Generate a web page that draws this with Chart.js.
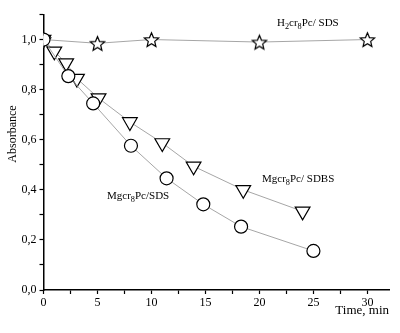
<!DOCTYPE html>
<html><head><meta charset="utf-8">
<script src="https://cdn.jsdelivr.net/npm/chart.js@4/dist/chart.umd.min.js"></script>
<style>html,body{margin:0;padding:0;background:#fff}#wrap{width:400px;height:333px}</style>
</head><body><div id="wrap"><canvas id="c"></canvas></div>
<script>
const timeStar = [0, 5, 10, 20, 30];
const absStar = [1.0, 0.985, 1.0, 0.99, 1.0];
const timeSDBS = [0, 1.0, 2.1, 3.1, 5.1, 8.0, 11.0, 13.9, 18.5, 24.0];
const absSDBS = [1.0, 0.953, 0.906, 0.844, 0.766, 0.671, 0.587, 0.494, 0.40, 0.314];
const timeSDS = [0, 2.3, 4.6, 8.1, 11.4, 14.8, 18.3, 25.0];
const absSDS = [1.0, 0.854, 0.745, 0.576, 0.446, 0.342, 0.253, 0.156];
const xTickValues = [0, 5, 10, 15, 20, 25, 30];
const yTickValues = [0.0, 0.2, 0.4, 0.6, 0.8, 1.0];
const xTitle = 'Time, min';
const yTitle = 'Absorbance';
// label pieces: [text, isSub]
const labelStar = [['H', false], ['2', true], ['cr', false], ['8', true], ['Pc/ SDS', false]];
const labelSDBS = [['Mgcr', false], ['8', true], ['Pc/ SDBS', false]];
const labelSDS = [['Mgcr', false], ['8', true], ['Pc/SDS', false]];

const SERIF = '"Liberation Serif", "Times New Roman", serif';

function makeStar(R) {
  const c = document.createElement('canvas');
  const s = Math.ceil(R * 2 + 4);
  c.width = s; c.height = s;
  const g = c.getContext('2d');
  const cx = s / 2, cy = s / 2 + 0.8;
  const r = R * 0.45;
  g.beginPath();
  for (let i = 0; i < 10; i++) {
    const a = -Math.PI / 2 + i * Math.PI / 5;
    const rr = i % 2 === 0 ? R : r;
    const x = cx + rr * Math.cos(a), y = cy + rr * Math.sin(a);
    if (i === 0) g.moveTo(x, y); else g.lineTo(x, y);
  }
  g.closePath();
  g.fillStyle = '#fff'; g.fill();
  g.strokeStyle = '#000'; g.lineWidth = 1.2; g.stroke();
  return c;
}
const starImg = makeStar(7.5);

const pts = (xs, ys) => xs.map((x, i) => ({x: x, y: ys[i]}));

const textPlugin = {
  id: 'texts',
  afterDraw(chart) {
    const ctx = chart.ctx;
    ctx.save();
    ctx.fillStyle = '#000';
    function drawPieces(pieces, x, y, size) {
      ctx.textAlign = 'left';
      ctx.textBaseline = 'alphabetic';
      let cx = x;
      for (const [t, sub] of pieces) {
        ctx.font = (sub ? size * 0.75 : size) + 'px ' + SERIF;
        ctx.fillText(t, cx, sub ? y + 3 : y);
        cx += ctx.measureText(t).width;
      }
    }
    drawPieces(labelStar, 277, 26, 11);
    drawPieces(labelSDBS, 262, 182, 11);
    drawPieces(labelSDS, 107, 199, 11);
    // y title
    ctx.font = '12px ' + SERIF;
    ctx.translate(16, 134);
    ctx.rotate(-Math.PI / 2);
    ctx.textAlign = 'center';
    ctx.textBaseline = 'alphabetic';
    ctx.fillText(yTitle, 0, 0);
    ctx.restore();
    ctx.save();
    ctx.font = '13px ' + SERIF;
    ctx.fillStyle = '#000';
    ctx.textAlign = 'right';
    ctx.textBaseline = 'alphabetic';
    ctx.fillText(xTitle, chart.chartArea.right, 314);
    ctx.restore();
  }
};

const lineCol = '#a6a6a6';
new Chart(document.getElementById('c'), {
  type: 'scatter',
  data: {
    datasets: [
      {
        data: pts(timeSDS, absSDS), showLine: true, borderColor: lineCol, borderWidth: 1,
        pointStyle: 'circle', pointRadius: 6.5, pointBackgroundColor: '#fff',
        pointBorderColor: '#000', pointBorderWidth: 1.2, clip: 0
      },
      {
        data: pts(timeSDBS, absSDBS), showLine: true, borderColor: lineCol, borderWidth: 1,
        pointStyle: 'triangle', pointRotation: 180, pointRadius: 8.5, pointBackgroundColor: '#fff',
        pointBorderColor: '#000', pointBorderWidth: 1.2, clip: 0
      },
      {
        data: pts(timeStar, absStar), showLine: true, borderColor: lineCol, borderWidth: 1,
        pointStyle: starImg, pointRadius: 8, clip: 0
      }
    ]
  },
  options: {
    responsive: true, maintainAspectRatio: false, animation: false,
    devicePixelRatio: 1,
    layout: {padding: {left: 0, right: 11, top: 14.5, bottom: 0}},
    plugins: {legend: {display: false}, tooltip: {enabled: false}},
    scales: {
      x: {
        type: 'linear', min: 0, max: 32,
        afterFit(s) { s.height = 43; },
        afterBuildTicks(s) {
          const t = [];
          for (let v = 0; v <= 30.001; v += 2.5) t.push({value: Math.round(v * 10) / 10});
          s.ticks = t;
        },
        ticks: {
          color: '#000', font: {family: SERIF, size: 12}, padding: 2, maxRotation: 0, autoSkip: false,
          callback(v) { return xTickValues.includes(v) ? String(v) : ''; }
        },
        grid: {drawOnChartArea: false, drawTicks: true, tickLength: 4, color: '#000', tickWidth: 1.2},
        border: {color: '#000', width: 1.5}
      },
      y: {
        type: 'linear', min: 0, max: 1.1,
        afterFit(s) { s.width = 43.5; },
        afterBuildTicks(s) {
          const t = [];
          for (let i = 0; i <= 11; i++) t.push({value: i / 10});
          s.ticks = t;
        },
        ticks: {
          color: '#000', font: {family: SERIF, size: 12}, padding: 3, autoSkip: false,
          callback(v) {
            const k = Math.round(v * 10) / 10;
            return yTickValues.some(y => Math.abs(y - k) < 1e-6) ? k.toFixed(1).replace('.', ',') : '';
          }
        },
        grid: {drawOnChartArea: false, drawTicks: true, tickLength: 4, color: '#000', tickWidth: 1.2},
        border: {color: '#000', width: 1.5}
      }
    }
  },
  plugins: [textPlugin]
});
</script>
</body></html>
